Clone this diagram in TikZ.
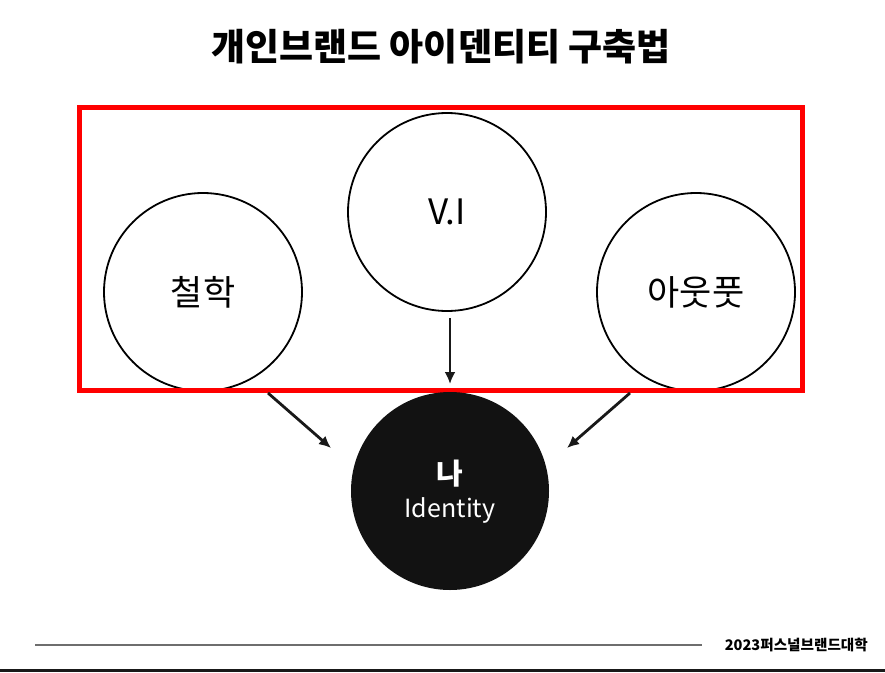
\documentclass[tikz,border=0pt]{standalone}
\usepackage{fontspec}
\setmainfont{Noto Sans CJK KR}
\usetikzlibrary{arrows.meta,positioning}
\definecolor{framered}{RGB}{255,0,0}
\definecolor{rulegrey}{RGB}{110,110,110}

\begin{document}
\begin{tikzpicture}[x=1pt, y=-1pt,
    bubble/.style={circle, draw=black, line width=1.8pt, minimum size=198pt, inner sep=0pt, font=\fontsize{35}{38}\selectfont},
    core/.style={circle, fill=black!93, minimum size=198pt, inner sep=0pt, text=white},
    flow/.style={-{Latex[length=12pt,width=11pt]}, line width=2.8pt, black!90}]
  \useasboundingbox (0,0) rectangle (885,672);
  % title
  \node[font=\fontsize{37}{40}\bfseries] (title) at (441,47) {개인브랜드 아이덴티티 구축법};
  % three elements
  \node[bubble] (vi) at (447,212) {V.I};
  \node[bubble] (phil) at (203,292) {철학};
  \node[bubble] (outfit) at (696,292) {아웃풋};
  \draw[framered, line width=5pt] (79,107) rectangle (802,390);
  % result
  \node[core] (me) at (450,491) {};
  \node[font=\fontsize{29}{32}\bfseries, text=white] (meword) at (450,474) {나};
  \node[font=\fontsize{25}{28}\selectfont, text=white] (idword) at (450,510) {Identity};
  % arrows into the core
  \coordinate (viend) at (450,318);
  \coordinate (viarr) at (450,384);
  \coordinate (phend) at (268,393);
  \coordinate (pharr) at (331,448);
  \coordinate (otend) at (630,393);
  \coordinate (otarr) at (567,448);
  \draw[flow] (viend) -- (viarr);
  \draw[flow] (phend) -- (pharr);
  \draw[flow] (otend) -- (otarr);
  % footer
  \coordinate (rulestart) at (35,645);
  \node[font=\fontsize{14.6}{17}\bfseries, anchor=east, inner sep=0pt] (brand) at (868,645) {2023퍼스널브랜드대학};
  \draw[rulegrey, line width=1.4pt] (rulestart) -- (702,645);
  \fill[black!90] (0,669) rectangle (885,672);
\end{tikzpicture}
\end{document}
